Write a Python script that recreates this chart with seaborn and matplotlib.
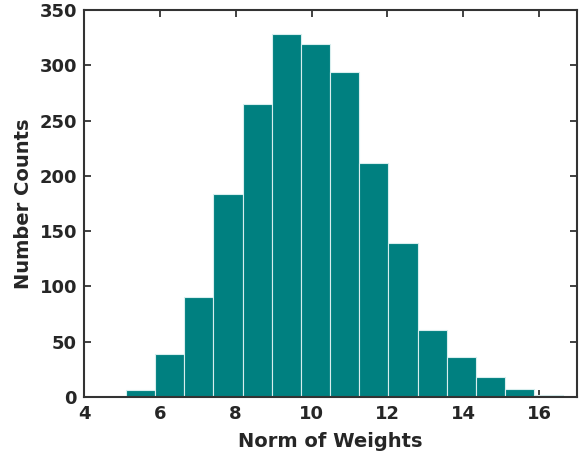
import matplotlib
matplotlib.use("Agg")
import matplotlib.pyplot as plt
import seaborn as sns
import pandas as pd

# Data
bin_start = 5.105
bin_end = 16.64
counts = [6, 39, 90, 184, 265, 328, 319, 294, 212, 139, 61, 36, 18, 7, 2]
x_ticks = [4, 6, 8, 10, 12, 14, 16]
y_ticks = [0, 50, 100, 150, 200, 250, 300, 350]

n_bins = len(counts)
w = (bin_end - bin_start) / n_bins
centers = [bin_start + w * (i + 0.5) for i in range(n_bins)]
df = pd.DataFrame({"norm": centers, "count": counts})

sns.set_style("ticks")
plt.rcParams['font.family'] = ['DejaVu Sans']
plt.rcParams['font.weight'] = 'bold'

fig = plt.figure(figsize=(5.82, 4.53), dpi=100)
ax = fig.add_axes([0.1443, 0.1236, 0.8471, 0.8543])

sns.histplot(data=df, x="norm", weights="count", bins=n_bins,
             binrange=(bin_start, bin_end), ax=ax,
             color="#008080", alpha=1.0, edgecolor="#d8eeee", linewidth=0.8)

ax.set_xlim(4, 17)
ax.set_ylim(0, 350)
ax.set_xticks(x_ticks)
ax.set_yticks(y_ticks)
ax.tick_params(direction="in", top=True, right=True, length=5, width=1.3,
               color="#333333", labelsize=13, labelcolor="#262626")
ax.tick_params(axis="x", pad=6)
ax.tick_params(axis="y", pad=5)
for lab in ax.get_xticklabels() + ax.get_yticklabels():
    lab.set_fontweight("bold")
for s in ax.spines.values():
    s.set_visible(True)
    s.set_color("#333333")
    s.set_linewidth(1.5)

ax.set_xlabel("Norm of Weights", fontsize=14, fontweight="bold", color="#262626", labelpad=6)
ax.set_ylabel("Number Counts", fontsize=14, fontweight="bold", color="#262626", labelpad=5)

fig.savefig("out.png", dpi=100)
